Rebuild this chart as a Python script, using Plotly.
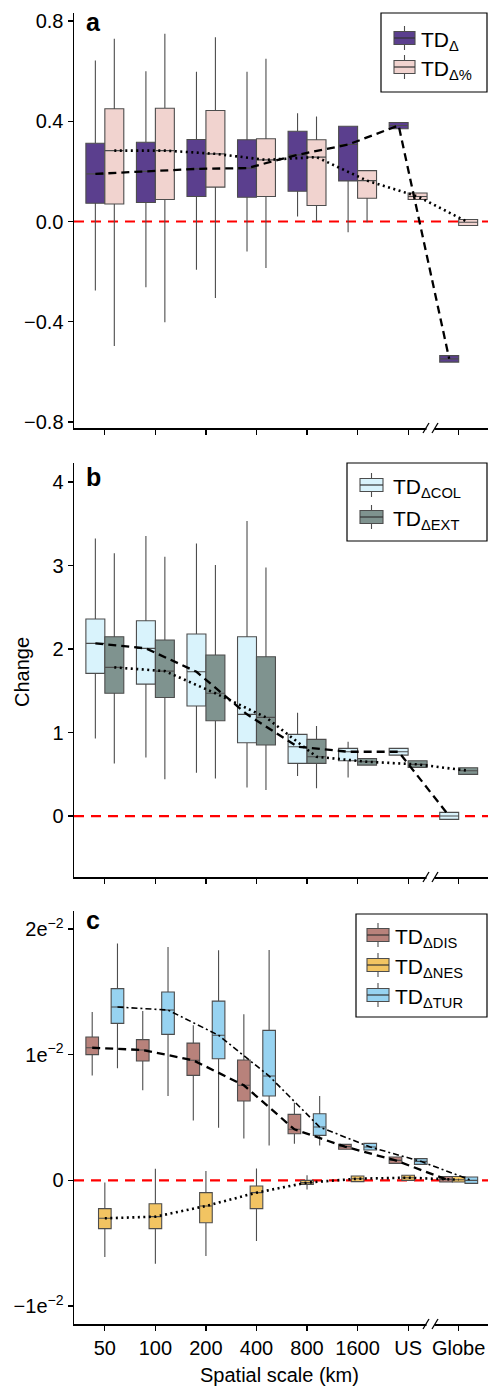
import plotly.graph_objects as go

FONT = "Liberation Sans, Arial, Helvetica, sans-serif"
categories = ["50", "100", "200", "400", "800", "1600", "US", "Globe"]

# ---------------- Panel a ----------------
td_q1 = [0.073, 0.076, 0.100, 0.097, 0.121, 0.162, 0.370, -0.561]
td_med = [0.190, 0.200, 0.210, 0.213, 0.266, 0.307, 0.383, -0.548]
td_q3 = [0.312, 0.316, 0.327, 0.326, 0.360, 0.380, 0.395, -0.535]
td_lo = [-0.275, -0.262, -0.193, -0.120, 0.020, -0.043, 0.370, -0.561]
td_hi = [0.642, 0.600, 0.598, 0.598, 0.432, 0.382, 0.395, -0.535]

tdp_q1 = [0.070, 0.088, 0.137, 0.100, 0.064, 0.093, 0.088, -0.016]
tdp_med = [0.283, 0.283, 0.270, 0.246, 0.257, 0.163, 0.100, -0.003]
tdp_q3 = [0.450, 0.452, 0.443, 0.330, 0.326, 0.203, 0.114, 0.008]
tdp_lo = [-0.497, -0.402, -0.305, -0.186, 0.001, -0.003, 0.088, -0.016]
tdp_hi = [0.729, 0.749, 0.735, 0.649, 0.419, 0.203, 0.114, 0.008]

# ---------------- Panel b ----------------
col_q1 = [1.709, 1.580, 1.317, 0.878, 0.631, 0.663, 0.730, -0.040]
col_med = [2.068, 2.008, 1.728, 1.218, 0.830, 0.770, 0.770, 0.000]
col_q3 = [2.360, 2.339, 2.180, 2.148, 0.978, 0.810, 0.810, 0.044]
col_lo = [0.930, 0.700, 0.519, 0.343, 0.479, 0.463, 0.730, -0.040]
col_hi = [3.325, 3.353, 3.265, 3.533, 1.237, 0.890, 0.810, 0.044]

ext_q1 = [1.470, 1.420, 1.141, 0.850, 0.631, 0.610, 0.583, 0.499]
ext_med = [1.780, 1.736, 1.470, 1.182, 0.710, 0.650, 0.619, 0.543]
ext_q3 = [2.148, 2.108, 1.928, 1.908, 0.918, 0.690, 0.663, 0.579]
ext_lo = [0.630, 0.440, 0.451, 0.311, 0.332, 0.610, 0.583, 0.499]
ext_hi = [3.146, 3.105, 3.006, 2.978, 1.078, 0.690, 0.663, 0.579]

# ---------------- Panel c ----------------
dis_q1 = [0.01000, 0.00949, 0.00835, 0.00631, 0.00371, 0.00247, 0.00135, -0.00013]
dis_med = [0.01055, 0.01037, 0.00955, 0.00756, 0.00406, 0.00268, 0.00159, 0.00008]
dis_q3 = [0.01140, 0.01120, 0.01092, 0.00957, 0.00525, 0.00286, 0.00186, 0.00030]
dis_lo = [0.00835, 0.00716, 0.00477, 0.00332, 0.00292, 0.00247, 0.00135, -0.00013]
dis_hi = [0.01340, 0.01347, 0.01233, 0.01321, 0.00618, 0.00286, 0.00186, 0.00030]

nes_q1 = [-0.00384, -0.00384, -0.00337, -0.00225, -0.00032, -0.00010, 0.00000, -0.00013]
nes_med = [-0.00302, -0.00289, -0.00204, -0.00098, -0.00018, 0.00013, 0.00021, 0.00005]
nes_q3 = [-0.00225, -0.00186, -0.00098, -0.00045, 0.00000, 0.00034, 0.00040, 0.00030]
nes_lo = [-0.00610, -0.00663, -0.00602, -0.00483, -0.00072, -0.00010, 0.00000, -0.00013]
nes_hi = [-0.00018, 0.00093, 0.00074, 0.00095, 0.00040, 0.00034, 0.00040, 0.00030]

tur_q1 = [0.01249, 0.01161, 0.00968, 0.00671, 0.00358, 0.00241, 0.00127, -0.00024]
tur_med = [0.01379, 0.01355, 0.01154, 0.00830, 0.00424, 0.00265, 0.00151, 0.00000]
tur_q3 = [0.01525, 0.01498, 0.01426, 0.01193, 0.00530, 0.00294, 0.00173, 0.00026]
tur_lo = [0.00891, 0.00671, 0.00419, 0.00278, 0.00278, 0.00241, 0.00127, -0.00024]
tur_hi = [0.01885, 0.01856, 0.01830, 0.01832, 0.00671, 0.00294, 0.00173, 0.00026]

# tick labels
a_tickvals = [0.8, 0.4, 0.0, -0.4, -0.8]
a_ticktext = ["0.8", "0.4", "0.0", "\u22120.4", "\u22120.8"]
b_tickvals = [0, 1, 2, 3, 4]
b_ticktext = ["0", "1", "2", "3", "4"]
c_tickvals = [0.02, 0.01, 0.0, -0.01]
c_ticktext = ["2e<sup>\u22122</sup>", "1e<sup>\u22122</sup>", "0", "\u22121e<sup>\u22122</sup>"]

DASH = "8px,5px"
DOT = "2px,3.5px"
DASHDOT = "6px,3px,2px,3px"
LINE_STYLE = {"dash": (DASH, 2.3), "dot": (DOT, 2.6), "dashdot": (DASHDOT, 1.6)}

C_PURPLE = "#5B3F8E"
C_PINK = "#F1D3CF"
C_LBLUE = "#D9F3FC"
C_GRAY = "#7F938F"
C_DIS = "#B8827B"
C_NES = "#F2C462"
C_TUR = "#97D3F1"

panels = [
    dict(x="x", y="y", g="a", series=[
        ("TD<sub>\u0394</sub>", td_q1, td_med, td_q3, td_lo, td_hi, C_PURPLE, "dash"),
        ("TD<sub>\u0394%</sub>", tdp_q1, tdp_med, tdp_q3, tdp_lo, tdp_hi, C_PINK, "dot"),
    ]),
    dict(x="x2", y="y2", g="b", series=[
        ("TD<sub>\u0394COL</sub>", col_q1, col_med, col_q3, col_lo, col_hi, C_LBLUE, "dash"),
        ("TD<sub>\u0394EXT</sub>", ext_q1, ext_med, ext_q3, ext_lo, ext_hi, C_GRAY, "dot"),
    ]),
    dict(x="x3", y="y3", g="c", series=[
        ("TD<sub>\u0394DIS</sub>", dis_q1, dis_med, dis_q3, dis_lo, dis_hi, C_DIS, "dash"),
        ("TD<sub>\u0394NES</sub>", nes_q1, nes_med, nes_q3, nes_lo, nes_hi, C_NES, "dot"),
        ("TD<sub>\u0394TUR</sub>", tur_q1, tur_med, tur_q3, tur_lo, tur_hi, C_TUR, "dashdot"),
    ]),
]

fig = go.Figure()
for p in panels:
    for k, (name, q1, med, q3, lo, hi, col, ls) in enumerate(p["series"]):
        fig.add_trace(go.Box(
            x=categories, q1=q1, median=med, q3=q3, lowerfence=lo, upperfence=hi,
            name=name, xaxis=p["x"], yaxis=p["y"],
            fillcolor=col, line=dict(color="#4d4d4d", width=1.1),
            whiskerwidth=0, boxpoints=False,
            alignmentgroup=p["g"], offsetgroup=p["g"] + str(k),
            showlegend=False, hoverinfo="skip",
        ))
    for k, (name, q1, med, q3, lo, hi, col, ls) in enumerate(p["series"]):
        dash, w = LINE_STYLE[ls]
        fig.add_trace(go.Scatter(
            x=categories, y=med, mode="lines", xaxis=p["x"], yaxis=p["y"],
            line=dict(color="black", width=w, dash=dash),
            alignmentgroup=p["g"], offsetgroup=p["g"] + str(k),
            showlegend=False, hoverinfo="skip",
        ))

H = 1386.0
L = 74.0
W = 414.0


def py(px):
    return 1 - px / H


def pxx(px):
    return (px - L) / W


# panel geometry in pixels (top, bottom)
geo = [(13, 428), (463, 877), (911, 1324)]
ranges = [[-0.824, 0.832], [-0.73, 4.228], [-0.01143, 0.02143]]
ticks = [(a_tickvals, a_ticktext), (b_tickvals, b_ticktext), (c_tickvals, c_ticktext)]

layout = dict(
    width=488, height=1386,
    margin=dict(l=74, r=0, t=0, b=0, autoexpand=False),
    paper_bgcolor="white", plot_bgcolor="white",
    boxmode="group", boxgap=0.25, boxgroupgap=0,
    scattermode="group", scattergap=0.25,
    showlegend=False,
    font=dict(family=FONT, size=20, color="black"),
)
for i in range(3):
    sfx = "" if i == 0 else str(i + 1)
    top, bot = geo[i]
    layout["xaxis" + sfx] = dict(
        domain=[0, 1], anchor="y" + sfx, type="category",
        categoryorder="array", categoryarray=categories,
        range=[-0.61, 7.58], showline=True, linecolor="black", linewidth=1.5,
        ticks="outside", ticklen=5, tickwidth=1.2, tickcolor="black",
        showgrid=False, zeroline=False, showticklabels=(i == 2),
        tickfont=dict(size=20, color="black", family=FONT),
    )
    layout["yaxis" + sfx] = dict(
        domain=[py(bot), py(top)], anchor="x" + sfx, range=ranges[i],
        tickmode="array", tickvals=ticks[i][0], ticktext=ticks[i][1],
        showline=True, linecolor="black", linewidth=1.5,
        ticks="outside", ticklen=5, tickwidth=1.2, tickcolor="black",
        showgrid=False, zeroline=False,
        tickfont=dict(size=20, color="black", family=FONT),
    )
fig.update_layout(**layout)

shapes = []
annotations = []

# zero reference lines
for i in range(3):
    sfx = "" if i == 0 else str(i + 1)
    shapes.append(dict(type="line", xref="x" + sfx + " domain", yref="y" + sfx,
                       x0=0, x1=1, y0=0, y1=0, layer="below",
                       line=dict(color="#FF0000", width=2.2, dash="10px,7px")))

# axis breaks between US and Globe
for i in range(3):
    yb = geo[i][1]
    shapes.append(dict(type="rect", xref="paper", yref="paper",
                       x0=pxx(426.5), x1=pxx(434.5), y0=py(yb + 2), y1=py(yb - 2),
                       fillcolor="white", line=dict(width=0), layer="above"))
    for cx in (426.0, 435.0):
        shapes.append(dict(type="line", xref="paper", yref="paper",
                           x0=pxx(cx - 3), x1=pxx(cx + 3), y0=py(yb + 5), y1=py(yb - 5),
                           line=dict(color="black", width=1.3), layer="above"))

# panel letters
for letter, ypx in (("a", 22), ("b", 477), ("c", 920)):
    annotations.append(dict(text="<b>%s</b>" % letter, x=pxx(84), y=py(ypx),
                            xref="paper", yref="paper", xanchor="left", yanchor="middle",
                            showarrow=False, font=dict(size=25, family=FONT, color="black")))

# axis titles
annotations.append(dict(text="Change", x=pxx(22), y=py(672), xref="paper", yref="paper",
                        textangle=-90, showarrow=False, xanchor="center", yanchor="middle",
                        font=dict(size=20, family=FONT, color="black")))
annotations.append(dict(text="Spatial scale (km)", x=pxx(279), y=py(1375), xref="paper",
                        yref="paper", showarrow=False, xanchor="center", yanchor="middle",
                        font=dict(size=20, family=FONT, color="black")))

# legends (drawn as keys + text)
legends = [
    dict(box=(381, 13, 487, 92), sym=(394, 415), tx=419, rows=[38, 67], p=panels[0]),
    dict(box=(347, 463, 487, 541), sym=(360, 383), tx=391, rows=[485, 517], p=panels[1]),
    dict(box=(356, 914, 487, 1017), sym=(367, 389), tx=393, rows=[935, 965, 995], p=panels[2]),
]
for lg in legends:
    x0, y0, x1, y1 = lg["box"]
    shapes.append(dict(type="rect", xref="paper", yref="paper",
                       x0=pxx(x0), x1=pxx(x1), y0=py(y1), y1=py(y0),
                       fillcolor="white", line=dict(color="black", width=1.2), layer="above"))
    sx0, sx1 = lg["sym"]
    cxs = (sx0 + sx1) / 2
    for (name, q1, med, q3, lo, hi, col, ls), ry in zip(lg["p"]["series"], lg["rows"]):
        shapes.append(dict(type="line", xref="paper", yref="paper",
                           x0=pxx(cxs), x1=pxx(cxs), y0=py(ry + 12), y1=py(ry - 12),
                           line=dict(color="#4d4d4d", width=1.1), layer="above"))
        shapes.append(dict(type="rect", xref="paper", yref="paper",
                           x0=pxx(sx0), x1=pxx(sx1), y0=py(ry + 6.5), y1=py(ry - 6.5),
                           fillcolor=col, line=dict(color="#4d4d4d", width=1.1), layer="above"))
        shapes.append(dict(type="line", xref="paper", yref="paper",
                           x0=pxx(sx0), x1=pxx(sx1), y0=py(ry), y1=py(ry),
                           line=dict(color="#333333", width=1.2), layer="above"))
        annotations.append(dict(text=name, x=pxx(lg["tx"]), y=py(ry + 3), xref="paper",
                                yref="paper", xanchor="left", yanchor="middle", showarrow=False,
                                font=dict(size=21, family=FONT, color="black")))

fig.update_layout(shapes=shapes, annotations=annotations)
fig.write_html(
    "out.html",
    config={"displayModeBar": False, "staticPlot": True},
    post_script="document.body.style.margin='0px';document.body.style.padding='0px';"
                "document.documentElement.style.overflow='hidden';",
)
